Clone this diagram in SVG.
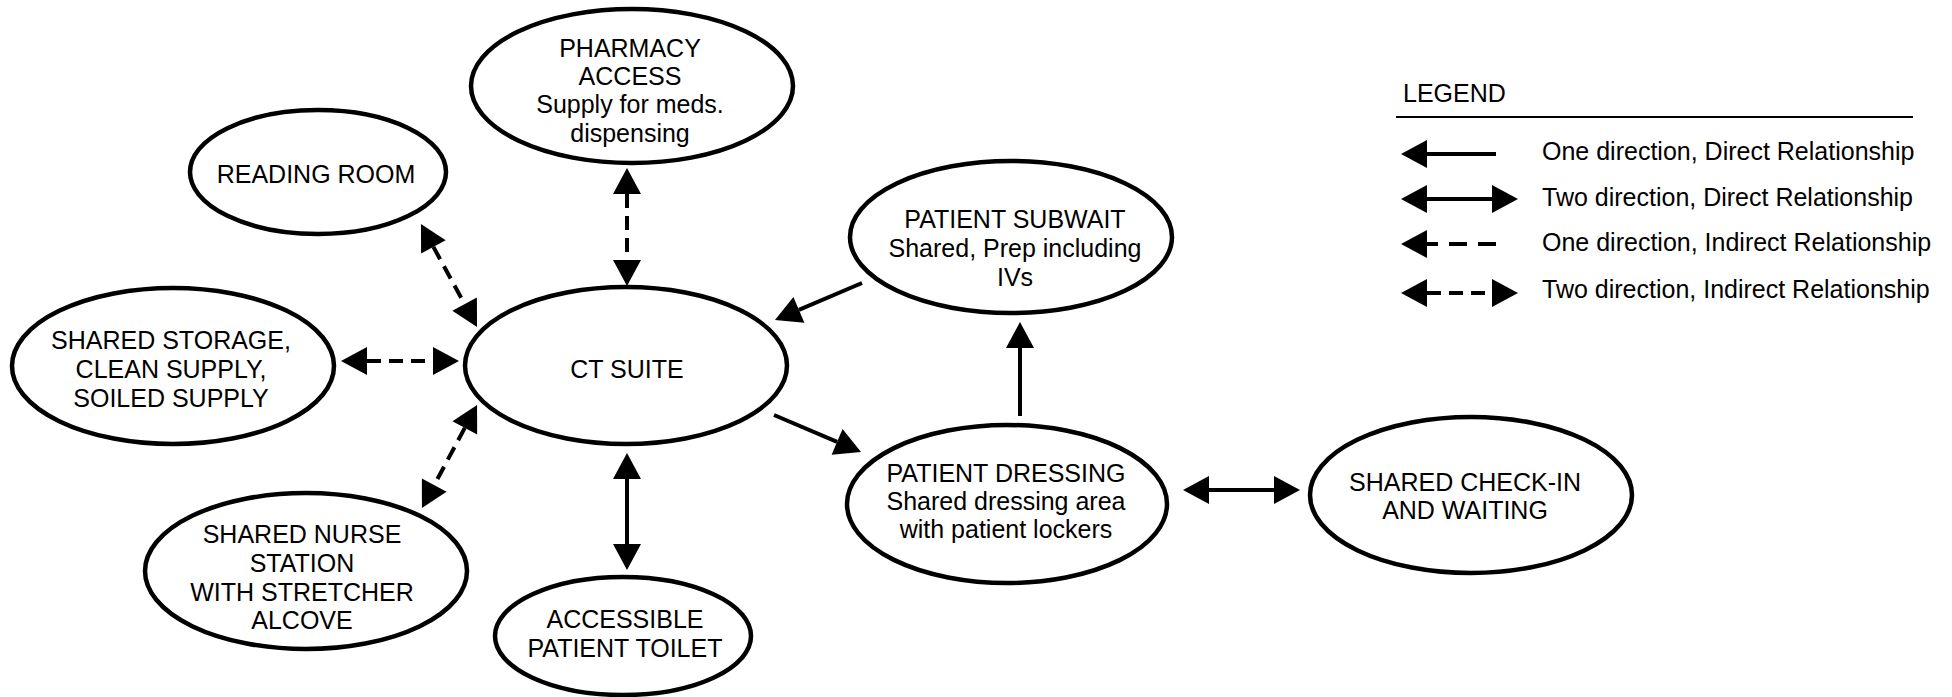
<svg xmlns="http://www.w3.org/2000/svg" width="1952" height="697" viewBox="0 0 1952 697">
<style>
  .node ellipse { fill: #fff; stroke: #000; stroke-width: 4.5; }
  .node text, .legend text { font-family: "Liberation Sans", Arial, sans-serif; font-size: 25px; fill: #000; }
  .node text { text-anchor: middle; }
  .conn line { stroke: #000; stroke-width: 4; fill: none; }
  .dash { stroke-dasharray: 14 8; }
  .ldash { stroke-dasharray: 18 11; }
</style>
<defs>
  <marker id="ah" viewBox="0 -14 26 28" markerWidth="26" markerHeight="28" refX="0" refY="0" orient="auto-start-reverse" markerUnits="userSpaceOnUse" overflow="visible">
    <path d="M0,-14 L26,0 L0,14 Z" fill="#000"/>
  </marker>
</defs>
<rect width="1952" height="697" fill="#fff"/>

<g id="connectors" class="conn">
  <line class="dash" x1="433.4" y1="246.9" x2="464.6" y2="304.1" marker-start="url(#ah)" marker-end="url(#ah)"/>
  <line class="dash" x1="367" y1="361" x2="433" y2="361" marker-start="url(#ah)" marker-end="url(#ah)"/>
  <line class="dash" x1="627" y1="194" x2="627" y2="260" marker-start="url(#ah)" marker-end="url(#ah)"/>
  <line class="dash" x1="464.8" y1="427.9" x2="434.2" y2="485.1" marker-start="url(#ah)" marker-end="url(#ah)"/>
  <line x1="627" y1="479" x2="627" y2="544" marker-start="url(#ah)" marker-end="url(#ah)"/>
  <line x1="862" y1="283" x2="798.9" y2="309.8" marker-end="url(#ah)"/>
  <line x1="774" y1="415" x2="837.1" y2="441.8" marker-end="url(#ah)"/>
  <line x1="1020" y1="416" x2="1020" y2="348" marker-end="url(#ah)"/>
  <line x1="1209" y1="490" x2="1274" y2="490" marker-start="url(#ah)" marker-end="url(#ah)"/>
</g>

<g id="pharmacy" class="node">
  <ellipse cx="632" cy="86" rx="161" ry="77"/>
  <text x="630" y="57">PHARMACY</text>
  <text x="630" y="85">ACCESS</text>
  <text x="630" y="113">Supply for meds.</text>
  <text x="630" y="142">dispensing</text>
</g>
<g id="reading-room" class="node">
  <ellipse cx="318" cy="172" rx="128" ry="62"/>
  <text x="316" y="183">READING ROOM</text>
</g>
<g id="shared-storage" class="node">
  <ellipse cx="173" cy="366" rx="161" ry="78"/>
  <text x="171" y="349">SHARED STORAGE,</text>
  <text x="171" y="378">CLEAN SUPPLY,</text>
  <text x="171" y="407">SOILED SUPPLY</text>
</g>
<g id="ct-suite" class="node">
  <ellipse cx="626" cy="365.5" rx="161" ry="78.5"/>
  <text x="627" y="378">CT SUITE</text>
</g>
<g id="nurse-station" class="node">
  <ellipse cx="306" cy="571" rx="161" ry="78"/>
  <text x="302" y="543">SHARED NURSE</text>
  <text x="302" y="572">STATION</text>
  <text x="302" y="601">WITH STRETCHER</text>
  <text x="302" y="629">ALCOVE</text>
</g>
<g id="patient-toilet" class="node">
  <ellipse cx="623" cy="636" rx="128" ry="59"/>
  <text x="625" y="628">ACCESSIBLE</text>
  <text x="625" y="657">PATIENT TOILET</text>
</g>
<g id="patient-subwait" class="node">
  <ellipse cx="1011" cy="237" rx="161" ry="76"/>
  <text x="1015" y="228">PATIENT SUBWAIT</text>
  <text x="1015" y="257">Shared, Prep including</text>
  <text x="1015" y="286">IVs</text>
</g>
<g id="patient-dressing" class="node">
  <ellipse cx="1007" cy="504" rx="160" ry="79"/>
  <text x="1006" y="482">PATIENT DRESSING</text>
  <text x="1006" y="510">Shared dressing area</text>
  <text x="1006" y="538">with patient lockers</text>
</g>
<g id="check-in" class="node">
  <ellipse cx="1471" cy="495" rx="161" ry="78"/>
  <text x="1465" y="491">SHARED CHECK-IN</text>
  <text x="1465" y="519">AND WAITING</text>
</g>

<g id="legend" class="legend">
  <text x="1403" y="102">LEGEND</text>
  <line x1="1396" y1="117" x2="1913" y2="117" stroke="#000" stroke-width="2"/>
  <g class="conn">
    <line x1="1427" y1="154" x2="1496" y2="154" marker-start="url(#ah)"/>
    <line x1="1427" y1="199" x2="1492" y2="199" marker-start="url(#ah)" marker-end="url(#ah)"/>
    <line class="ldash" x1="1420" y1="244" x2="1496" y2="244"/>
    <path d="M1427,230 L1401,244 L1427,258 Z" fill="#000"/>
    <line class="dash" x1="1427" y1="293" x2="1492" y2="293" marker-start="url(#ah)" marker-end="url(#ah)"/>
  </g>
  <text x="1542" y="160">One direction, Direct Relationship</text>
  <text x="1542" y="206">Two direction, Direct Relationship</text>
  <text x="1542" y="251">One direction, Indirect Relationship</text>
  <text x="1542" y="298">Two direction, Indirect Relationship</text>
</g>
</svg>
